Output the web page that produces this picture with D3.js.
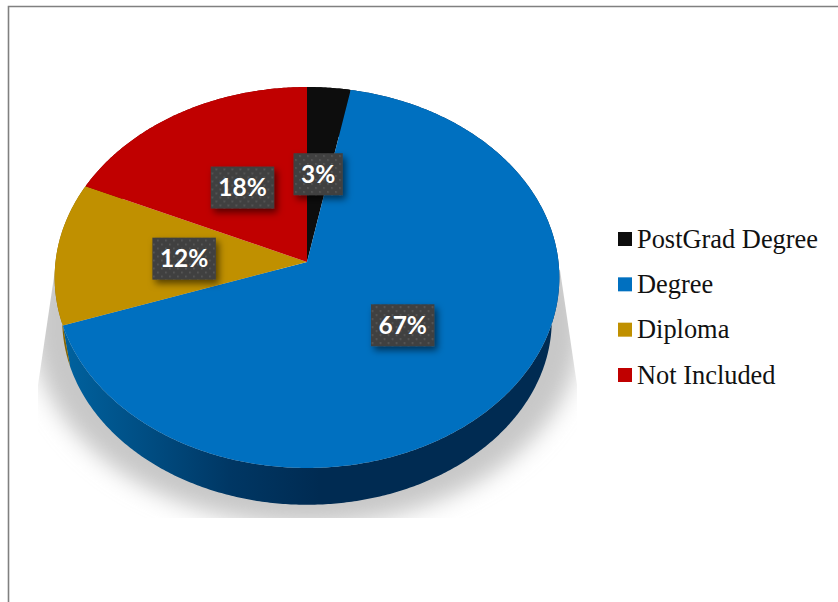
<!DOCTYPE html>
<html><head><meta charset="utf-8">
<script src="https://cdn.jsdelivr.net/npm/d3@7"></script>
<style>html,body{margin:0;padding:0;background:#fff;overflow:hidden}svg{display:block}</style>
</head><body><svg id="c" width="838" height="602"></svg>
<script>
const categories = ["PostGrad Degree","Degree","Diploma","Not Included"];
const values = [3,66.7,12.1,18.2];
const labels = ["3%","67%","12%","18%"];
const colors = ["#0d0d0d","#0070c0","#c09000","#c00000"];
const sideColors = ["#060606","url(#degSide)","#866500","#800000"];

const svg = d3.select("#c");
const defs = svg.append("defs");

// perspective disc geometry
const cx=307, cy=262, R=251.5, Ry=189.2, k=0.0814;
const baseScale=0.97, baseCy=305;
const project=(a,r,scale,y0)=>{
  const u=Math.sin(a)*r, v=Math.cos(a)*r, w=1+k*v;
  return [cx+scale*R*u/w, y0-scale*Ry*v/w];
};
const topPt=(a,r=1)=>project(a,r,1,cy);
const basePt=(a,r=1)=>project(a,r,baseScale,baseCy);
const arcPts=(f,a0,a1)=>{
  const n=Math.max(2,Math.ceil((a1-a0)/0.01));
  return d3.range(n+1).map(i=>f(a0+(a1-a0)*i/n));
};
const line=d3.line();

const arcs=d3.pie().sort(null).value(d=>d)(values);

// defs
const g=defs.append("linearGradient").attr("id","degSide").attr("gradientUnits","userSpaceOnUse")
  .attr("x1",62).attr("x2",320).attr("y1",0).attr("y2",0);
[[0,"#00629f"],[0.3,"#004f85"],[0.65,"#003764"],[1,"#002b52"]].forEach(s=>g.append("stop").attr("offset",s[0]).attr("stop-color",s[1]));
defs.append("filter").attr("id","blur").attr("x","-10%").attr("y","-10%").attr("width","120%").attr("height","120%")
  .append("feGaussianBlur").attr("stdDeviation",11);
const ds=defs.append("filter").attr("id","boxShadow").attr("x","-30%").attr("y","-30%").attr("width","170%").attr("height","170%");
ds.append("feDropShadow").attr("dx",3).attr("dy",4).attr("stdDeviation",3.5).attr("flood-color","#000").attr("flood-opacity",0.55);
const pat=defs.append("pattern").attr("id","dots").attr("patternUnits","userSpaceOnUse").attr("width",8).attr("height",8);
pat.append("rect").attr("width",8).attr("height",8).attr("fill","#404040");
pat.append("rect").attr("x",1).attr("y",1).attr("width",1.6).attr("height",1.6).attr("fill","#5c5c5c");
pat.append("rect").attr("x",5).attr("y",5).attr("width",1.6).attr("height",1.6).attr("fill","#5c5c5c");
defs.append("clipPath").attr("id","shClip").append("polygon")
  .attr("points","55,270 38,385 38,518 577,518 577,385 560,270");

// frame
svg.append("path").attr("d","M8.5,602V6.5H838").attr("fill","none").attr("stroke","#808080").attr("stroke-width",1.6);

// cast shadow
svg.append("g").attr("clip-path","url(#shClip)")
  .append("ellipse").attr("cx",307).attr("cy",325).attr("rx",275).attr("ry",200)
  .attr("fill","#c8c8c8").attr("filter","url(#blur)");

// side walls
svg.append("g").selectAll("path").data(arcs).join("path")
  .attr("d",d=>{
    const t=arcPts(topPt,d.startAngle,d.endAngle);
    const b=arcPts(basePt,d.startAngle,d.endAngle).reverse();
    return line(t.concat(b))+"Z";
  })
  .attr("fill",(d,i)=>sideColors[i]);

// top faces
svg.append("g").selectAll("path").data(arcs).join("path")
  .attr("d",d=>line([[cx,cy]].concat(arcPts(topPt,d.startAngle,d.endAngle)))+"Z")
  .attr("fill",(d,i)=>colors[i]);

// data labels
const labelR=0.49, padX=7.5, boxH=42;
const lg=svg.append("g").selectAll("g").data(arcs).join("g")
  .attr("transform",d=>{
    const p=topPt((d.startAngle+d.endAngle)/2,labelR);
    return `translate(${p[0]},${p[1]+1})`;
  });
const rects=lg.append("rect").attr("fill","url(#dots)").attr("filter","url(#boxShadow)");
const txt=lg.append("text").text((d,i)=>labels[i])
  .attr("text-anchor","middle").attr("dy","0.36em")
  .attr("font-family","Lato, sans-serif").attr("font-weight",700).attr("font-size",24.5).attr("fill","#fff");
txt.each(function(d,i){
  const w=this.getComputedTextLength()+padX*2;
  d3.select(rects.nodes()[i]).attr("x",-w/2).attr("y",-boxH/2).attr("width",w).attr("height",boxH);
});

// legend
const legendY=d3.scalePoint().domain(categories).range([239,375]);
const leg=svg.append("g").selectAll("g").data(categories).join("g")
  .attr("transform",d=>`translate(618,${legendY(d)})`);
leg.append("rect").attr("y",-7).attr("width",14).attr("height",14).attr("fill",(d,i)=>colors[i]);
leg.append("text").text(d=>d).attr("x",19).attr("dy","0.33em")
  .attr("font-family","'Liberation Serif', serif").attr("font-size",26.4).attr("fill","#111");
</script></body></html>
